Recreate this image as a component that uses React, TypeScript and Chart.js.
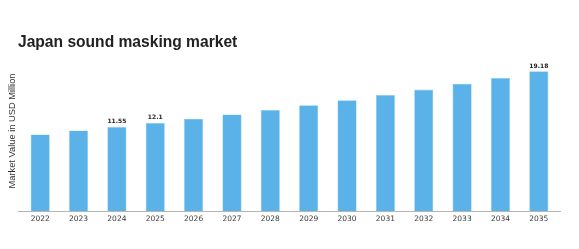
import React, { useEffect, useRef } from "react";
import { Chart, registerables } from "chart.js";

Chart.register(...registerables);

const years = ["2022", "2023", "2024", "2025", "2026", "2027", "2028", "2029", "2030", "2031", "2032", "2033", "2034", "2035"];
const values = [10.5, 11.05, 11.55, 12.1, 12.66, 13.25, 13.88, 14.52, 15.2, 15.92, 16.67, 17.47, 18.28, 19.18];
const valueLabels = ["", "", "11.55", "12.1", "", "", "", "", "", "", "", "", "", "19.18"];
const chartTitle = "Japan sound masking market";
const yAxisTitle = "Market Value in USD Million";

const overlay = {
  id: "overlay",
  afterDraw(chart: any) {
    const { ctx, chartArea } = chart;
    ctx.save();
    // axis line
    ctx.strokeStyle = "#b5b5b5";
    ctx.lineWidth = 1;
    ctx.beginPath();
    ctx.moveTo(chartArea.left - 3, Math.round(chartArea.bottom) + 0.5);
    ctx.lineTo(chartArea.right + 3, Math.round(chartArea.bottom) + 0.5);
    ctx.stroke();
    // title
    ctx.fillStyle = "#222";
    ctx.font = "bold 15.6px 'Liberation Sans', Arial, sans-serif";
    ctx.textBaseline = "middle";
    ctx.textAlign = "left";
    ctx.fillText(chartTitle, 18, 43);
    // y title
    ctx.save();
    ctx.translate(12, 131);
    ctx.rotate(-Math.PI / 2);
    ctx.textAlign = "center";
    ctx.font = "9.3px 'Liberation Sans', Arial, sans-serif";
    ctx.fillStyle = "#333";
    ctx.fillText(yAxisTitle, 0, 0);
    ctx.restore();
    // value labels
    const meta = chart.getDatasetMeta(0);
    ctx.font = "bold 6px 'DejaVu Sans', sans-serif";
    ctx.fillStyle = "#222";
    ctx.textAlign = "center";
    ctx.textBaseline = "alphabetic";
    meta.data.forEach((bar: any, i: number) => {
      const lbl = valueLabels[i];
      if (lbl) ctx.fillText(lbl, bar.x, bar.y - 3.5);
    });
    ctx.restore();
  },
};

export default function App() {
  const ref = useRef<HTMLCanvasElement>(null);
  useEffect(() => {
    if (!ref.current) return;
    const chart = new Chart(ref.current, {
      type: "bar",
      data: {
        labels: years,
        datasets: [
          {
            data: values,
            backgroundColor: "#5bb2e8",
            borderColor: "#8fd0f2",
            borderWidth: 0.6,
            categoryPercentage: 1,
            barPercentage: 0.5,
          },
        ],
      },
      options: {
        responsive: false,
        animation: false,
        layout: { padding: { left: 21, right: 21, top: 58, bottom: 22 } },
        plugins: { legend: { display: false }, tooltip: { enabled: false }, title: { display: false } },
        scales: {
          x: {
            grid: { display: false, drawTicks: false },
            border: { display: false },
            ticks: {
              color: "#3a3a3a",
              font: { family: "'DejaVu Sans', sans-serif", size: 7.5 },
              padding: 3.5,
              maxRotation: 0,
              autoSkip: false,
            },
          },
          y: {
            display: false,
            min: 0,
            max: 21,
          },
        },
      },
      plugins: [overlay],
    });
    return () => chart.destroy();
  }, []);
  return (
    <div style={{ position: "absolute", left: 0, top: 0, width: 579, height: 249, background: "#fff" }}>
      <canvas ref={ref} width={579} height={249} style={{ display: "block" }} />
    </div>
  );
}
